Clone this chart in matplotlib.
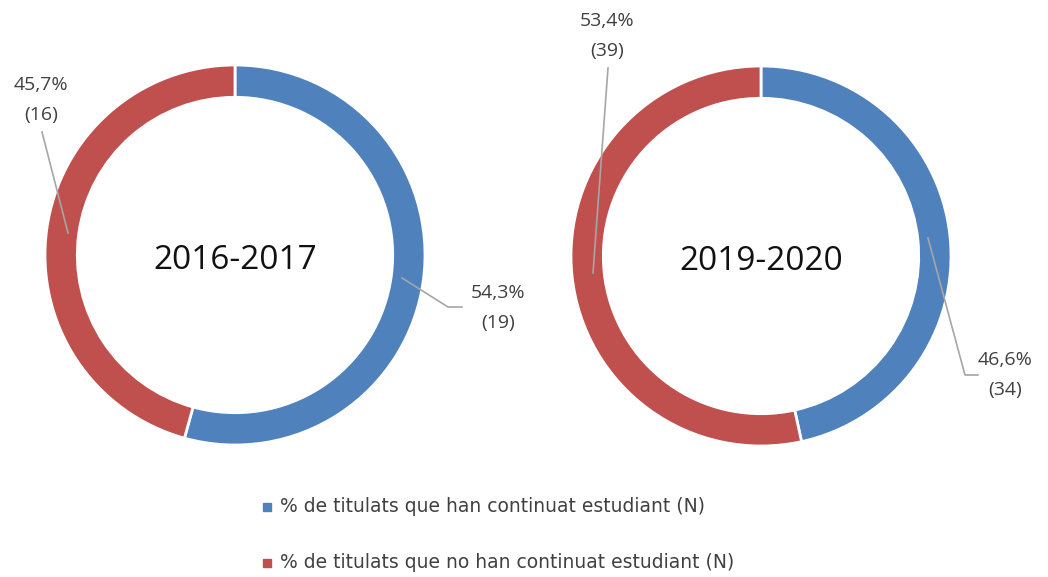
import matplotlib
matplotlib.use("Agg")
import matplotlib.pyplot as plt
from matplotlib.patches import Rectangle

W, H = 1048, 577

periods = ["2016-2017", "2019-2020"]
continued = [19, 34]
not_continued = [16, 39]
legend_labels = ["% de titulats que han continuat estudiant (N)",
                 "% de titulats que no han continuat estudiant (N)"]

blue = "#4F81BD"
red = "#C0504D"
txt = "#404040"
font = "Open Sans"

fig = plt.figure(figsize=(W / 100, H / 100), dpi=100)

# donut centres and radius in pixels
centres = [(235, 255), (761, 256)]
R = 190

for (cx, cy), per, a, b in zip(centres, periods, continued, not_continued):
    ax = fig.add_axes([(cx - R) / W, 1 - (cy + R) / H, 2 * R / W, 2 * R / H])
    ax.pie([a, b], colors=[blue, red], startangle=90, counterclock=False,
           radius=1, wedgeprops=dict(width=0.17, edgecolor="white", linewidth=2))
    ax.set_xlim(-1, 1)
    ax.set_ylim(-1, 1)
    ax.set_aspect("auto")
    ax.axis("off")
    for p in ax.patches:
        p.set_clip_on(False)
    ax.text(0, -0.03, per, ha="center", va="center", fontsize=24,
            color="#111111", family=font)

# overlay in pixel coordinates for labels, leader lines and legend
ov = fig.add_axes([0, 0, 1, 1])
ov.set_xlim(0, W)
ov.set_ylim(H, 0)
ov.axis("off")
ov.patch.set_alpha(0)

def pct(v, total):
    return f"{100 * v / total:.1f}%".replace(".", ",")

t1 = continued[0] + not_continued[0]
t2 = continued[1] + not_continued[1]
# value, total, text centre (x, y of first line), leader line points
labels = [
    (not_continued[0], t1, (41, 85), [(68, 233), (42, 132)]),
    (continued[0], t1, (498, 293), [(402, 278), (448, 307), (462, 307)]),
    (not_continued[1], t2, (607, 21), [(593, 273), (608, 68)]),
    (continued[1], t2, (1005, 360), [(928, 238), (965, 375), (978, 375)]),
]
for v, tot, (tx, ty), pts in labels:
    xs, ys = zip(*pts)
    ov.plot(xs, ys, color="#A6A6A6", lw=1.2)
    ov.text(tx, ty, pct(v, tot), ha="center", va="center", fontsize=14,
            color=txt, family=font)
    ov.text(tx, ty + 30, f"({v})", ha="center", va="center", fontsize=14,
            color=txt, family=font)

for i, (lab, col) in enumerate(zip(legend_labels, [blue, red])):
    y = 507 + i * 56
    ov.add_patch(Rectangle((263, y - 4), 8, 8, color=col))
    ov.text(280, y, lab, ha="left", va="center", fontsize=13.5, color=txt,
            family="DejaVu Sans")

fig.savefig("out.png", dpi=100, facecolor="white")
